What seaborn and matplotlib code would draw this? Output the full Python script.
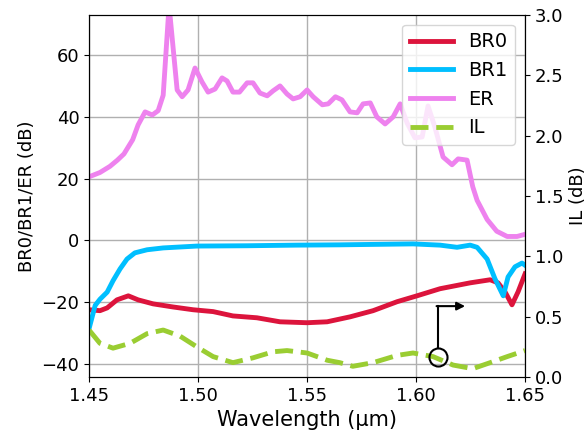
import numpy as np
import pandas as pd
import matplotlib
matplotlib.use("Agg")
import matplotlib.pyplot as plt
import seaborn as sns

# -----------------------------
# Data
# -----------------------------
er_wl = [1.450, 1.455, 1.4596, 1.463, 1.466, 1.470, 1.4725, 1.4757, 1.479, 1.4817,
         1.484, 1.4867, 1.4904, 1.4927, 1.4954, 1.4986, 1.5018, 1.5046, 1.5078, 1.511,
         1.5133, 1.516, 1.519, 1.5225, 1.5252, 1.5284, 1.5317, 1.5344, 1.5376, 1.5408,
         1.5436, 1.5468, 1.550, 1.5528, 1.557, 1.5597, 1.563, 1.566, 1.5697, 1.573,
         1.5757, 1.579, 1.582, 1.5858, 1.5895, 1.5927, 1.5959, 1.5995, 1.6028, 1.6055,
         1.6087, 1.6124, 1.6165, 1.6193, 1.6234, 1.626, 1.628, 1.6326, 1.637, 1.6418,
         1.6463, 1.650]
er_db = [20.6, 22.0, 24.0, 26.0, 28.0, 32.6, 37.4, 41.6, 40.6, 42.0,
         47.0, 76.0, 48.7, 46.5, 48.7, 55.8, 51.3, 48.0, 49.0, 52.6,
         51.6, 48.0, 48.0, 51.0, 51.0, 47.7, 46.8, 48.4, 50.0, 47.4,
         45.8, 46.5, 48.7, 46.5, 43.9, 44.2, 46.5, 45.5, 41.6, 41.3,
         44.2, 44.5, 40.0, 37.7, 40.0, 44.2, 38.0, 33.2, 33.5, 43.5,
         36.5, 27.0, 24.5, 26.4, 26.0, 17.4, 13.0, 6.8, 3.0, 1.3,
         1.3, 2.0]

br1_wl = [1.450, 1.4528, 1.455, 1.4583, 1.461, 1.4642, 1.4674, 1.471, 1.4766, 1.484,
          1.4995, 1.5225, 1.545, 1.565, 1.5986, 1.611, 1.6188, 1.6248, 1.628, 1.6326,
          1.6362, 1.640, 1.6422, 1.6454, 1.6486, 1.650]
br1_db = [-28.5, -21.0, -19.0, -16.7, -13.0, -9.2, -6.0, -4.0, -3.0, -2.4,
          -1.8, -1.7, -1.5, -1.4, -1.1, -1.5, -2.2, -1.5, -2.2, -6.0,
          -12.4, -17.9, -11.8, -8.5, -7.3, -8.0]

br0_wl = [1.450, 1.455, 1.4583, 1.4628, 1.468, 1.4725, 1.4794, 1.4885, 1.4977, 1.5069,
          1.516, 1.527, 1.5376, 1.550, 1.5592, 1.5697, 1.5803, 1.5913, 1.6004, 1.611,
          1.6248, 1.634, 1.6376, 1.6408, 1.644, 1.6468, 1.650]
br0_db = [-22.4, -22.7, -21.8, -19.2, -17.9, -19.2, -20.5, -21.5, -22.4, -23.0,
          -24.4, -25.0, -26.3, -26.6, -26.3, -24.7, -22.7, -19.8, -17.9, -15.6,
          -13.7, -12.7, -13.7, -16.6, -20.8, -16.6, -10.8]

il_wl = [1.450, 1.455, 1.461, 1.4688, 1.4766, 1.484, 1.4917, 1.4995, 1.5069, 1.516,
         1.5252, 1.5344, 1.5408, 1.550, 1.5592, 1.565, 1.571, 1.5803, 1.5913, 1.5986,
         1.6078, 1.617, 1.626, 1.634, 1.6418, 1.650]
il_db = [0.39, 0.28, 0.24, 0.28, 0.36, 0.39, 0.34, 0.25, 0.17, 0.12,
         0.16, 0.21, 0.22, 0.20, 0.14, 0.12, 0.09, 0.12, 0.18, 0.20,
         0.17, 0.10, 0.07, 0.12, 0.17, 0.22]

# -----------------------------
# Plot
# -----------------------------
fig, ax = plt.subplots(figsize=(5.86, 4.36), dpi=100)
fig.subplots_adjust(left=0.152, right=0.896, top=0.966, bottom=0.135)

lw = 3.5
sns.lineplot(x=br0_wl, y=br0_db, ax=ax, color="crimson", lw=lw, label="BR0", sort=False)
sns.lineplot(x=br1_wl, y=br1_db, ax=ax, color="deepskyblue", lw=lw, label="BR1", sort=False)
sns.lineplot(x=er_wl, y=er_db, ax=ax, color="violet", lw=lw, label="ER", sort=False)

ax2 = ax.twinx()
sns.lineplot(x=il_wl, y=il_db, ax=ax2, color="yellowgreen", lw=lw, linestyle="--",
             label="IL", sort=False)

ax.set_xlim(1.45, 1.65)
ax.set_ylim(-44.2, 73)
ax2.set_ylim(0, 3)
ax.set_xticks([1.45, 1.50, 1.55, 1.60, 1.65])
ax.set_yticks([-40, -20, 0, 20, 40, 60])
ax2.set_yticks([0.0, 0.5, 1.0, 1.5, 2.0, 2.5, 3.0])
ax.xaxis.set_major_formatter(matplotlib.ticker.FormatStrFormatter("%.2f"))
ax2.yaxis.set_major_formatter(matplotlib.ticker.FormatStrFormatter("%.1f"))

ax.grid(True, color="#b0b0b0", lw=1)
ax.tick_params(labelsize=13)
ax2.tick_params(labelsize=13)
ax.set_xlabel("Wavelength (μm)", fontsize=15)
ax.set_ylabel("BR0/BR1/ER (dB)", fontsize=13)
ax2.set_ylabel("IL (dB)", fontsize=13)

# legend with all four series on the twin axis
h1, l1 = ax.get_legend_handles_labels()
h2, l2 = ax2.get_legend_handles_labels()
ax.get_legend().remove()
ax2.legend(h1 + h2, l1 + l2, loc="upper right", fontsize=14, handlelength=2.2)

# circle + arrow marking IL on the right axis
ax2.plot([1.6101], [0.166], marker="o", ms=13, mfc="none", mec="black", mew=1.5)
ax2.plot([1.6101, 1.6101], [0.24, 0.588], color="black", lw=1.5)
ax2.annotate("", xy=(1.6225, 0.588), xytext=(1.6094, 0.588),
             arrowprops=dict(arrowstyle="-|>", color="black", lw=1.5,
                             mutation_scale=12, shrinkA=0, shrinkB=0))

plt.savefig("out.png")
